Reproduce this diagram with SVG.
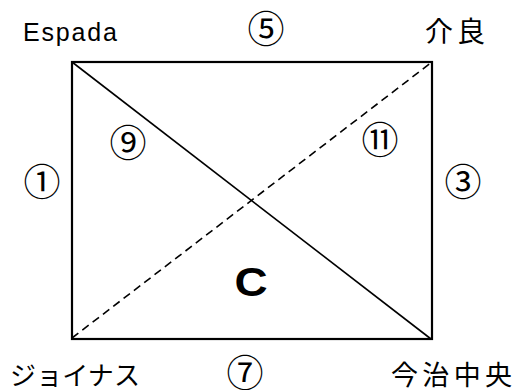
<svg xmlns="http://www.w3.org/2000/svg" width="519" height="390" viewBox="0 0 519 390">
<style>
.lbl{font-family:"Noto Sans CJK JP","Liberation Sans",sans-serif;fill:#000;}
.num{font-family:"Noto Sans CJK JP","DejaVu Sans",sans-serif;font-size:37px;fill:#000;text-anchor:middle;}
.edge{stroke:#000;fill:none;}
</style>
<rect width="519" height="390" fill="#fff"/>
<g id="connectors">
<rect class="edge" x="72" y="62" width="360" height="277" stroke-width="2.2"/>
<line class="edge" x1="72" y1="62" x2="431" y2="339" stroke-width="1.6"/>
<line class="edge" x1="72" y1="338" x2="432" y2="62" stroke-width="1.6" stroke-dasharray="8,5"/>
</g>
<g id="n-espada"><text class="lbl" x="23" y="41" font-size="25" textLength="94" lengthAdjust="spacing" style="font-family:'Liberation Sans',sans-serif">Espada</text></g>
<g id="n-kera"><text class="lbl" x="425" y="42" font-size="28" textLength="60" lengthAdjust="spacing">介良</text></g>
<g id="n-joinasu"><text class="lbl" x="10" y="385" font-size="26" textLength="130" lengthAdjust="spacing">ジョイナス</text></g>
<g id="n-imabari"><text class="lbl" x="391" y="385" font-size="27" textLength="121" lengthAdjust="spacing">今治中央</text></g>
<g id="labels">
<text class="num" x="266" y="43">⑤</text>
<text class="num" x="245" y="387">⑦</text>
<text class="num" x="42" y="196">①</text>
<text class="num" x="463" y="196">③</text>
<text class="num" x="128" y="157">⑨</text>
<text class="num" x="380" y="154">⑪</text>
<text x="251" y="296" font-family="'Liberation Sans',Arial,sans-serif" font-weight="bold" font-size="41" text-anchor="middle" transform="translate(251 0) scale(1.12 1) translate(-251 0)">C</text>
</g>
</svg>
